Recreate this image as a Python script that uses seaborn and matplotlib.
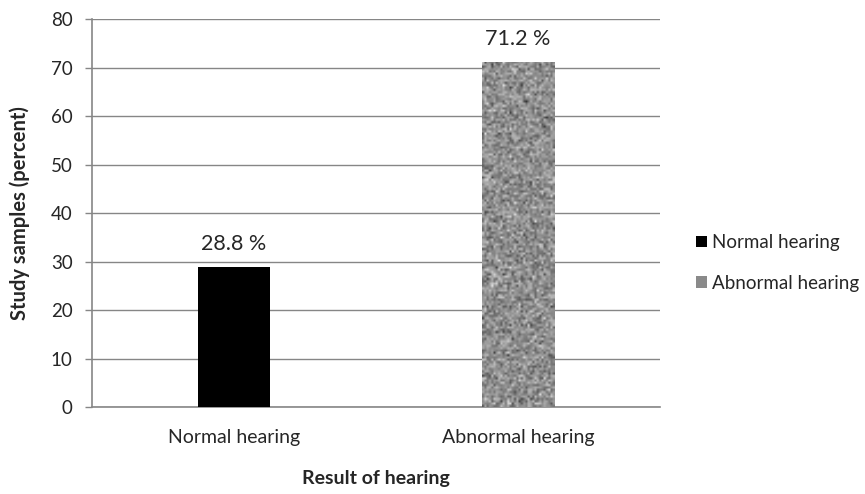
import numpy as np
import pandas as pd
import matplotlib
matplotlib.use("Agg")
import matplotlib.pyplot as plt
from matplotlib.patches import Patch
import seaborn as sns

# data
categories = ['Normal hearing', 'Abnormal hearing']
percent = [28.8, 71.2]
bar_colors = ['#000000', '#8a8a8a']

df = pd.DataFrame({'result': categories, 'percent': percent})

sns.set_style('white')
plt.rcParams['font.family'] = ['Lato', 'DejaVu Sans']

fig = plt.figure(figsize=(8.65, 4.94), dpi=100)
ax = fig.add_axes([0.1064, 0.176, 0.6566, 0.7854])

grid_c = '#868686'
sns.barplot(data=df, x='result', y='percent', hue='result',
            palette=bar_colors, width=0.254, legend=False, ax=ax,
            saturation=1, edgecolor='none', zorder=3)

ax.set_xlim(-0.5, 1.5)
ax.set_ylim(0, 80)
ax.set_yticks(np.arange(0, 81, 10))
ax.yaxis.grid(True, color=grid_c, linewidth=1, zorder=0)
ax.set_axisbelow(True)
for s in ['top', 'right']:
    ax.spines[s].set_visible(False)
for s in ['left', 'bottom']:
    ax.spines[s].set_color(grid_c)
    ax.spines[s].set_linewidth(1.2)
ax.tick_params(axis='y', length=5, color=grid_c, width=1, labelsize=13.5, pad=9,
               direction='out', left=True)
ax.tick_params(axis='x', length=0, labelsize=14, pad=16)

# speckled grey fill texture for the second bar
bar = ax.patches[1]
x0, y0 = bar.get_x(), bar.get_y()
w, h = bar.get_width(), bar.get_height()
rng = np.random.default_rng(3)
tex = rng.normal(0.56, 0.11, size=(150, 32)).clip(0.2, 0.9)
im = ax.imshow(tex, cmap='gray', vmin=0, vmax=1, extent=[x0, x0 + w, y0, y0 + h],
               aspect='auto', interpolation='bilinear', zorder=4)
im.set_clip_path(bar)

for container in ax.containers:
    ax.bar_label(container, fmt='{:.1f} %', padding=9.5, fontsize=15.5, zorder=5)

ax.set_xlabel('Result of hearing', fontsize=14, fontweight='bold', labelpad=17)
ax.set_ylabel('Study samples (percent)', fontsize=14.5, fontweight='bold', labelpad=15)

handles = [Patch(facecolor=c, edgecolor='none') for c in bar_colors]
fig.legend(handles, categories, loc='center left', bbox_to_anchor=(0.805, 0.468),
           frameon=False, fontsize=13.5, handlelength=0.55, handleheight=0.55,
           handletextpad=0.3, labelspacing=1.25, borderaxespad=0, borderpad=0)

fig.savefig('out.png', dpi=100)
